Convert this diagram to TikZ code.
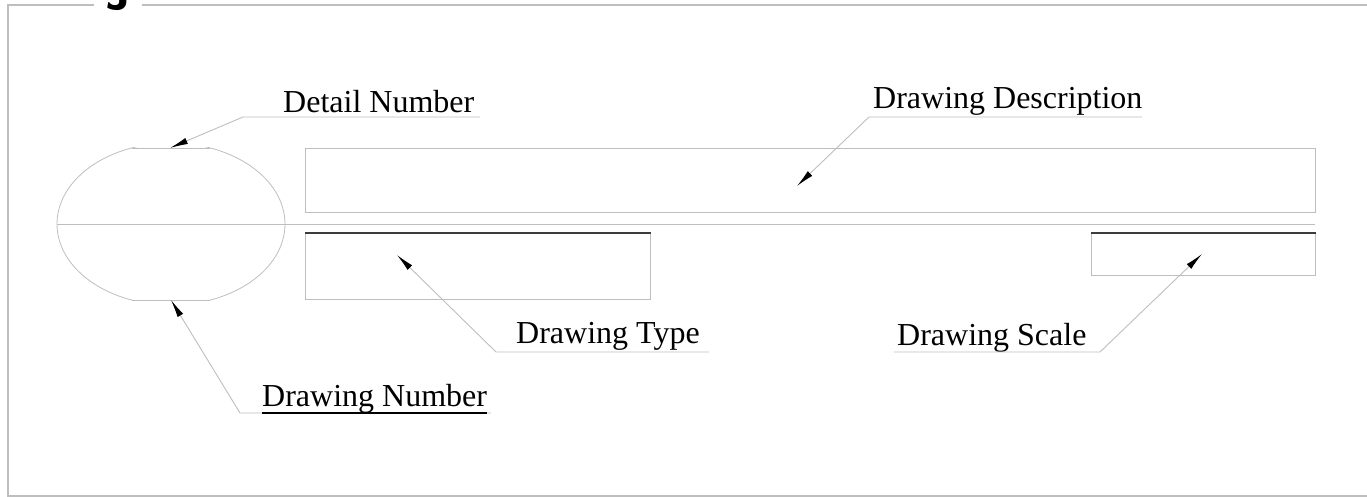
\documentclass[tikz,border=0pt]{standalone}
\usepackage{fontspec}
\setmainfont{Liberation Serif}
\usetikzlibrary{arrows.meta}
\definecolor{LineGray}{RGB}{190,190,190}
\definecolor{EdgeGray}{RGB}{60,60,60}

\begin{document}
\begin{tikzpicture}[x=1pt,y=-1pt,
    FrameStyle/.style={draw=LineGray,line width=1.4pt},
    BoxStyle/.style={draw=LineGray,line width=1.3pt,inner sep=0pt,anchor=north west},
    EdgeStyle/.style={draw=EdgeGray,line width=1.4pt},
    LeaderStyle/.style={draw=LineGray,line width=0.9pt,-{Latex[length=18pt,width=6.5pt,color=black]}},
    LabelStyle/.style={anchor=base west,inner sep=0pt,font=\fontsize{32}{38}\selectfont}]
  \useasboundingbox (0,0) rectangle (1367,497);
  % frame
  \draw[FrameStyle] (1367,5) -- (8,5) -- (8,496) -- (1367,496);
  \node[fill=white,inner sep=0pt,minimum width=48pt,anchor=base,
        font=\sffamily\bfseries\fontsize{50}{50}\selectfont] (sheet) at (118,10) {J};
  % detail circle
  \begin{scope}
    \clip (50,148) rectangle (292,300);
    \draw[draw=LineGray,line width=0.8pt] (171,224) ellipse [x radius=114, y radius=81];
  \end{scope}
  \draw[draw=LineGray,line width=0.8pt] (131.6,148) -- (210.4,148);
  \draw[draw=LineGray,line width=0.8pt] (131.6,300) -- (210.4,300);
  \draw[FrameStyle,line width=1pt] (57,224) -- (1315,224);
  % boxes
  \node[BoxStyle,minimum width=1010pt,minimum height=64pt] (desc) at (305,148) {};
  \node[BoxStyle,minimum width=345pt,minimum height=66pt] (type) at (305,233) {};
  \node[BoxStyle,minimum width=224pt,minimum height=42pt] (scale) at (1091,233) {};
  \draw[EdgeStyle] (type.north west) -- (type.north east);
  \draw[EdgeStyle] (scale.north west) -- (scale.north east);
  % labels
  \node[LabelStyle] (detailLabel) at (283,113) {Detail Number};
  \node[LabelStyle] (descLabel) at (873,109) {Drawing Description};
  \node[LabelStyle] (typeLabel) at (516,343) {Drawing Type};
  \node[LabelStyle] (scaleLabel) at (897,345) {Drawing Scale};
  \node[LabelStyle] (numLabel) at (262,406) {Drawing Number};
  % leader points
  \coordinate (detailEnd) at (480,117);
  \coordinate (detailBend) at (243,117);
  \coordinate (detailTip) at (170,148);
  \coordinate (descEnd) at (1142,117);
  \coordinate (descBend) at (869,117);
  \coordinate (descTip) at (797,186);
  \coordinate (typeEnd) at (709,352);
  \coordinate (typeBend) at (496,352);
  \coordinate (typeTip) at (397,255);
  \coordinate (scaleEnd) at (894,352);
  \coordinate (scaleBend) at (1100,352);
  \coordinate (scaleTip) at (1202,254);
  \coordinate (numEnd) at (491,413);
  \coordinate (numBend) at (240,413);
  \coordinate (numTip) at (171,300);
  % leaders
  \draw[LeaderStyle] (detailEnd) -- (detailBend) -- (detailTip);
  \draw[LeaderStyle] (descEnd) -- (descBend) -- (descTip);
  \draw[LeaderStyle] (typeEnd) -- (typeBend) -- (typeTip);
  \draw[LeaderStyle] (scaleEnd) -- (scaleBend) -- (scaleTip);
  \draw[LeaderStyle] (numEnd) -- (numBend) -- (numTip);
  \draw[black,line width=1.6pt] ([yshift=-7pt]numLabel.base west) -- ([yshift=-7pt]numLabel.base east);
\end{tikzpicture}
\end{document}
